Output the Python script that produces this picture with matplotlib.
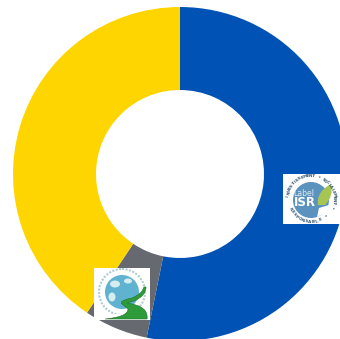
import numpy as np
import matplotlib
matplotlib.use("Agg")
import matplotlib.pyplot as plt
from matplotlib.patches import Rectangle, Circle, Ellipse, PathPatch, Polygon
from matplotlib.path import Path

# Portfolio shares, clockwise from twelve o'clock
shares = [53.2, 6.2, 40.6]
share_colors = ["#0052B4", "#666A70", "#FFD500"]
ring_words = "INVESTISSEMENT • SOCIALEMENT •"
lower_words = "RESPONSABLE •"

fig = plt.figure(figsize=(3.40, 3.39), dpi=100)
ax = fig.add_axes([0, 0, 1, 1])
ax.set_xlim(0, 340)
ax.set_ylim(339, 0)
ax.axis("off")

# Donut; y runs downward, so counterclockwise in data reads clockwise on screen
ax.pie(shares, colors=share_colors, startangle=270, counterclock=True,
       center=(180, 174), radius=167, frame=False,
       wedgeprops=dict(width=83, linewidth=0))
ax.set_xlim(0, 340)
ax.set_ylim(339, 0)
ax.set_aspect("auto")


def arc_text(text, cx, cy, r, start, stop, size, color, outward_top=True):
    """Lay characters one by one along a circle (angles in screen degrees)."""
    for ch, a in zip(text, np.linspace(start, stop, len(text))):
        t = np.radians(a)
        x, y = cx + r * np.cos(t), cy - r * np.sin(t)
        rot = a - 90 if outward_top else a + 90
        ax.text(x, y, ch, fontsize=size, color=color, ha="center", va="center",
                rotation=rot, family="DejaVu Sans", fontweight="bold", zorder=7)


# SRI label on the blue slice
ax.add_patch(Rectangle((283, 174), 57, 50, fc="white", ec="none", zorder=5))
ax.add_patch(Circle((311, 200), 18, fc="#5B93BE", ec="none", zorder=6))
ax.add_patch(PathPatch(Path(
    [(318, 205), (316, 192), (331, 184), (334, 196), (325, 205), (318, 205)],
    [Path.MOVETO, Path.CURVE3, Path.CURVE3, Path.CURVE3, Path.CURVE3, Path.CLOSEPOLY]),
    fc="#A5C652", ec="none", zorder=7))
ax.add_patch(Polygon([(317, 217), (319, 208), (329, 205), (327, 212)],
                     fc="white", ec="none", zorder=7))
ax.text(304, 193, "Label", fontsize=5.6, color="#DDE9F2", ha="center", va="center", zorder=8)
ax.text(304.5, 203, "ISR", fontsize=8.5, color="white", fontweight="bold",
        ha="center", va="center", zorder=8)
arc_text(ring_words, 311, 199, 23, 172, -22, 3.0, "#33566F")
arc_text(lower_words, 311, 199, 23, 205, 312, 3.0, "#33566F", outward_top=False)

# Sustainable-finance globe label on the grey slice
ax.add_patch(Rectangle((94, 268), 56, 52, fc="white", ec="none", zorder=5))
ax.add_patch(Circle((122, 292), 17, fc="#5FB3D0", ec="none", zorder=6))
for cx, cy, w, h in [(115, 284, 10, 7), (128, 281, 8, 5), (112, 297, 7, 9)]:
    ax.add_patch(Ellipse((cx, cy), w, h, fc="#D6ECEF", ec="none", zorder=7))
ax.add_patch(Circle((122, 292), 23, fc="none", ec="#8FB6BC", lw=1.5,
                    ls=(0, (1, 0.7)), alpha=0.7, zorder=6))
ax.add_patch(Rectangle((94, 314), 56, 6, fc="white", ec="none", zorder=7))
ax.add_patch(PathPatch(Path(
    [(105, 319), (128, 317), (128, 309), (122, 304), (118, 301), (132, 298), (142, 294), (144, 287),
     (146, 287), (146, 296), (134, 301), (127, 303), (149, 306), (147, 319), (105, 319)],
    [Path.MOVETO, Path.CURVE3, Path.CURVE3, Path.LINETO, Path.CURVE3, Path.CURVE3, Path.CURVE3, Path.CURVE3,
     Path.LINETO, Path.CURVE3, Path.CURVE3, Path.LINETO, Path.CURVE3, Path.CURVE3, Path.CLOSEPOLY]),
    fc="#2E9B3A", ec="#1F6E2A", lw=0.4, zorder=8))

fig.savefig("out.png", dpi=100)
